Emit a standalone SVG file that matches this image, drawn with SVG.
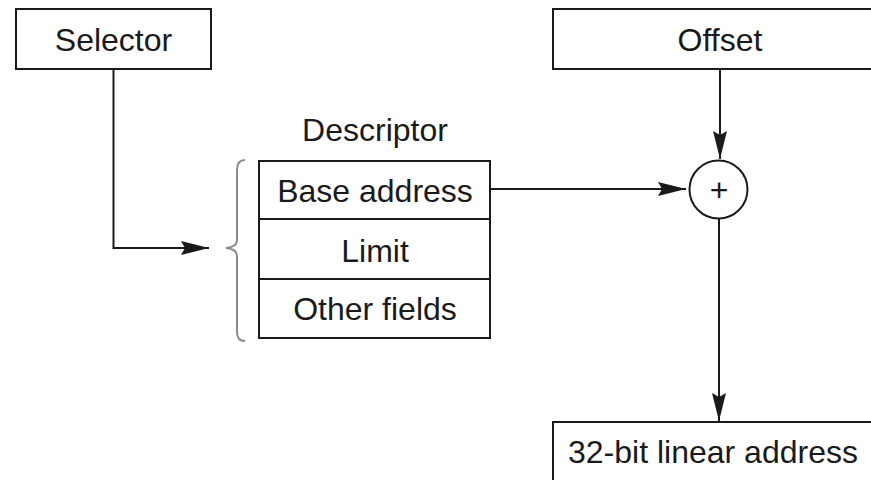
<svg xmlns="http://www.w3.org/2000/svg" width="871" height="480" viewBox="0 0 871 480">
<style>
.box{fill:#fff;stroke:#1a1a1a;stroke-width:2}
.t{font-family:"Liberation Sans",Arial,sans-serif;font-size:32px;fill:#1a1a1a;text-anchor:middle}
.c{fill:none;stroke:#1a1a1a;stroke-width:2}
</style>
<defs>
<marker id="arr" markerUnits="userSpaceOnUse" markerWidth="30" markerHeight="16" refX="28" refY="7" orient="auto">
<path d="M0,0 L28,7 L0,14 L4,7 z" fill="#1a1a1a"/>
</marker>
</defs>
<rect width="871" height="480" fill="#fff"/>
<g id="selector">
<rect class="box" x="16" y="9" width="195" height="60"/>
<text class="t" x="113.5" y="51">Selector</text>
</g>
<g id="offset">
<rect class="box" x="553" y="9" width="340" height="60"/>
<text class="t" x="720" y="51">Offset</text>
</g>
<g id="descriptor">
<text class="t" x="375" y="141">Descriptor</text>
<path d="M245,160 Q237,160 237,170 L237,240 Q237,247 226,248 Q237,249 237,256 L237,332 Q237,341 245,341" fill="none" stroke="#8a8a8a" stroke-width="2"/>
<rect class="box" x="259" y="161" width="231" height="177"/>
<line class="c" x1="259" y1="219" x2="490" y2="219"/>
<line class="c" x1="259" y1="279" x2="490" y2="279"/>
<text class="t" x="375" y="202">Base address</text>
<text class="t" x="375" y="262">Limit</text>
<text class="t" x="375" y="320">Other fields</text>
</g>
<g id="adder">
<circle cx="718.5" cy="189.5" r="29" fill="#fff" stroke="#1a1a1a" stroke-width="2"/>
<text class="t" x="719" y="201">+</text>
</g>
<g id="linear">
<rect class="box" x="553" y="422" width="340" height="80"/>
<text x="568" y="463" style="font-family:'Liberation Sans',Arial,sans-serif;font-size:32px;fill:#1a1a1a">32-bit linear address</text>
</g>
<g id="connectors">
<path class="c" d="M113.5,69 L113.5,248 L209,248" marker-end="url(#arr)"/>
<path class="c" d="M490,189 L686,189" marker-end="url(#arr)"/>
<path class="c" d="M720,69 L720,159" marker-end="url(#arr)"/>
<path class="c" d="M719,219 L719,421" marker-end="url(#arr)"/>
</g>
</svg>
